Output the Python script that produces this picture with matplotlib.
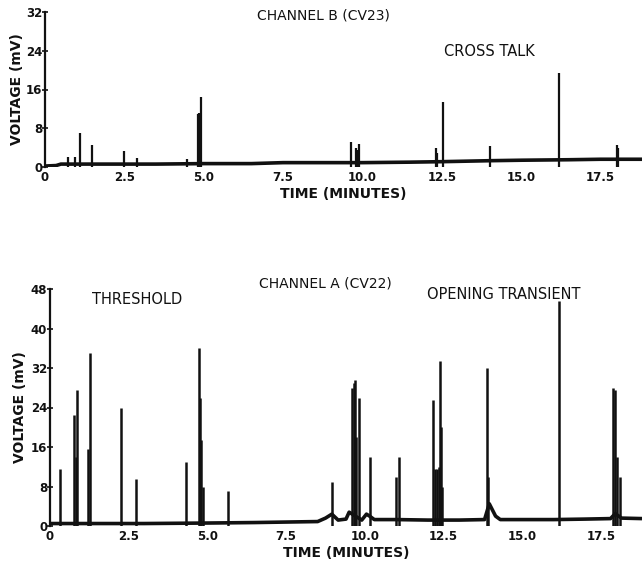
import numpy as np
import matplotlib
matplotlib.use('Agg')
import matplotlib.pyplot as plt

# channel B (CV23) - top trace
b_base_t = [0.0, 0.35, 0.5, 2.0, 3.5, 5.0, 6.5, 7.5, 9.0, 10.0, 11.5, 12.5, 14.0, 15.0, 16.5, 17.5, 18.8]
b_base_v = [0.2, 0.3, 0.6, 0.6, 0.6, 0.7, 0.7, 0.9, 0.9, 0.9, 1.0, 1.1, 1.3, 1.4, 1.5, 1.6, 1.6]
b_spike_t = [0.73, 0.95, 1.1, 1.48, 2.49, 2.9, 4.48, 4.83, 4.86, 4.9,
             9.65, 9.8, 9.85, 9.9, 12.3, 12.36, 12.52, 14.0, 16.2, 18.0, 18.05]
b_spike_v = [2.0, 2.0, 7.0, 4.5, 3.3, 1.8, 1.7, 11.0, 11.2, 14.5,
             5.2, 4.0, 3.5, 4.8, 4.0, 2.8, 13.5, 4.3, 19.5, 4.6, 4.0]

# channel A (CV22) - bottom trace
a_base_t = [0.0, 1.5, 3.0, 5.0, 6.5, 7.5, 8.5, 8.75, 8.95, 9.15, 9.4, 9.5, 9.9, 10.05, 10.15, 10.3,
            11.0, 12.0, 13.0, 13.8, 13.95, 14.15, 14.3, 15.0, 16.0, 17.0, 17.8, 17.95, 18.15, 18.8]
a_base_v = [0.5, 0.5, 0.5, 0.6, 0.7, 0.8, 0.9, 1.6, 2.4, 1.2, 1.4, 2.8, 1.2, 2.4, 2.0, 1.3,
            1.3, 1.2, 1.2, 1.3, 4.5, 2.0, 1.3, 1.3, 1.3, 1.4, 1.5, 2.5, 1.6, 1.5]
a_spike_t = [0.32, 0.77, 0.82, 0.86, 1.21, 1.26, 2.25, 2.74, 4.33, 4.73, 4.77, 4.81, 4.85, 5.66,
             8.96, 9.6, 9.64, 9.68, 9.72, 9.8, 10.15, 10.99, 11.08,
             12.16, 12.22, 12.28, 12.34, 12.38, 12.42, 12.46, 13.87, 13.92, 16.16,
             17.87, 17.95, 18.02, 18.1]
a_spike_v = [11.5, 22.5, 14.0, 27.5, 15.5, 35.0, 24.0, 9.5, 13.0, 36.0, 26.0, 17.5, 8.0, 7.0,
             9.0, 28.0, 29.0, 29.5, 18.0, 26.0, 14.0, 10.0, 14.0,
             25.5, 11.5, 11.5, 12.0, 33.5, 20.0, 8.0, 32.0, 10.0, 45.5,
             28.0, 27.5, 14.0, 10.0]

b_yticks = [0, 8, 16, 24, 32]
a_yticks = [0, 8, 16, 24, 32, 40, 48]
xticks = [0, 2.5, 5.0, 7.5, 10.0, 12.5, 15.0, 17.5]
xlabels = ['0', '2.5', '5.0', '7.5', '10.0', '12.5', '15.0', '17.5']

ink = '#111111'
fig = plt.figure(figsize=(6.42, 5.61), dpi=100)


def style(ax, ymax, yticks, ypad):
    ax.set_xlim(0, 18.8)
    ax.set_ylim(0, ymax)
    for s in ['top', 'right', 'bottom']:
        ax.spines[s].set_visible(False)
    ax.spines['left'].set_linewidth(1.6)
    ax.spines['left'].set_color(ink)
    ax.set_yticks(yticks)
    ax.set_yticklabels([str(v) for v in yticks], fontsize=8.5, fontweight='bold', color=ink)
    ax.set_xticks(xticks)
    ax.set_xticklabels(xlabels, fontsize=8.5, fontweight='bold', color=ink)
    ax.tick_params(axis='y', direction='inout', length=4, width=1.2, pad=0, colors=ink)
    ax.tick_params(axis='x', length=0, pad=3)
    ax.set_ylabel('VOLTAGE (mV)', fontsize=10, fontweight='bold', color=ink, labelpad=ypad)
    ax.set_xlabel('TIME (MINUTES)', fontsize=10, fontweight='bold', color=ink, labelpad=2)


axb = fig.add_axes([45 / 642, 394 / 561, 597 / 642, 155 / 561])
axb.vlines(b_spike_t, 0, b_spike_v, color=ink, lw=1.6)
axb.plot(b_base_t, b_base_v, color=ink, lw=2.6, solid_capstyle='butt')
style(axb, 32, b_yticks, 1)
axb.text(0.466, 0.98, 'CHANNEL B (CV23)', transform=axb.transAxes, ha='center', va='center',
         fontsize=10, color=ink)
axb.text(0.745, 0.742, 'CROSS TALK', transform=axb.transAxes, ha='center', va='center',
         fontsize=10.5, color=ink)

axa = fig.add_axes([50 / 642, 35 / 561, 592 / 642, 237 / 561])
axa.vlines(a_spike_t, 0, a_spike_v, color=ink, lw=1.8)
axa.plot(a_base_t, a_base_v, color=ink, lw=2.6, solid_capstyle='butt')
style(axa, 48, a_yticks, 3)
axa.text(0.465, 1.025, 'CHANNEL A (CV22)', transform=axa.transAxes, ha='center', va='center',
         fontsize=10, color=ink)
axa.text(0.147, 0.954, 'THRESHOLD', transform=axa.transAxes, ha='center', va='center',
         fontsize=10.5, color=ink)
axa.text(0.767, 0.975, 'OPENING TRANSIENT', transform=axa.transAxes, ha='center', va='center',
         fontsize=10.5, color=ink)

fig.savefig('out.png', dpi=100)
